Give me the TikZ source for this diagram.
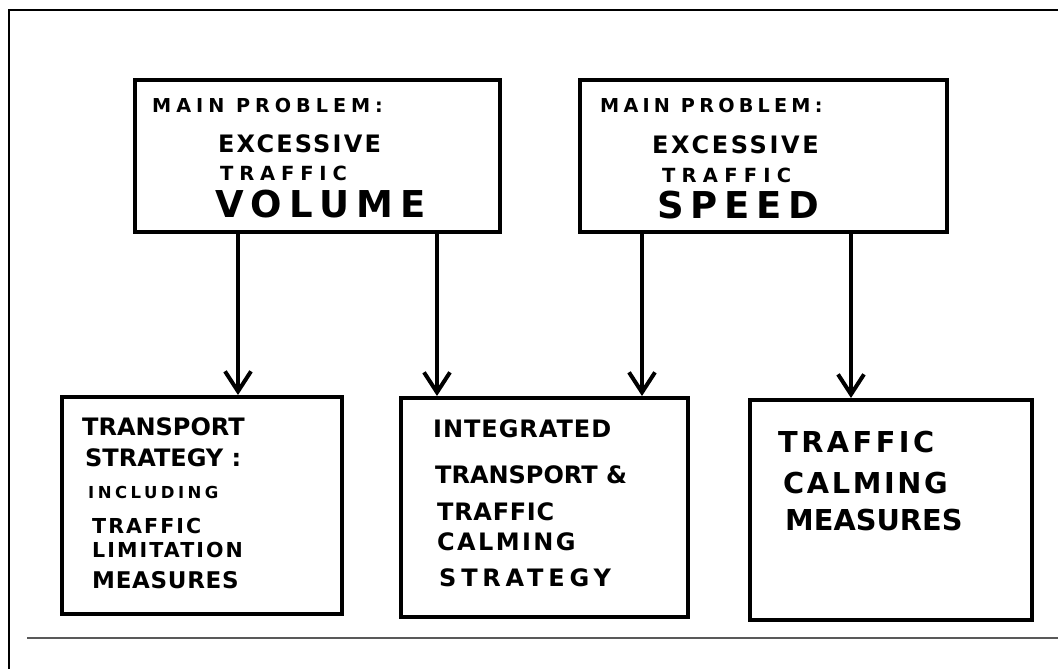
\documentclass[tikz,border=0pt]{standalone}
\usepackage{fontspec}
\usetikzlibrary{arrows.meta}

% lettering, spaced out like hand printing
\newfontfamily\hand{DejaVu Sans Bold}
% size and letter spacing in one go
\newcommand{\lett}[2]{\fontsize{#1}{#1}\selectfont\addfontfeatures{LetterSpace=#2}}

\tikzset{
  box/.style={draw, line width=4pt, inner sep=0pt},
  arr/.style={line width=3.5pt, -{Straight Barb[length=20pt,width=26pt,line width=4pt]}},
  txt/.style={anchor=base west, inner sep=0pt},
}

\begin{document}
\begin{tikzpicture}[x=1pt, y=-1pt]
                \useasboundingbox (0,0) rectangle (1058,669);
                \fill[white] (0,0) rectangle (1058,669);

                % frame
                \draw[line width=2.8pt] (9,669) -- (9,10) -- (1058,10);
                \draw[line width=1.3pt, gray!70!black] (27,638) -- (1058,638);

                % problem boxes
                \node[box, minimum width=365pt, minimum height=152pt] (vol) at (317.5,156) {};
                \node[box, minimum width=367pt, minimum height=152pt] (spd) at (763.5,156) {};

                % strategy boxes
                \node[box, minimum width=280pt, minimum height=217pt] (tsb) at (202,505.5) {};
                \node[box, minimum width=287pt, minimum height=219pt] (itg) at (544.5,507.5) {};
                \node[box, minimum width=282pt, minimum height=220pt] (tcm) at (891,510) {};

                % arrow positions
                \coordinate (a1) at (238,0);
                \coordinate (a2) at (437,0);
                \coordinate (a3) at (642,0);
                \coordinate (a4) at (851,0);

                \draw[arr] (vol.south -| a1) -- (tsb.north -| a1);
                \draw[arr] (vol.south -| a2) -- (itg.north -| a2);
                \draw[arr] (spd.south -| a3) -- (itg.north -| a3);
                \draw[arr] (spd.south -| a4) -- (tcm.north -| a4);

                % text: volume
                \node[txt, font=\hand\lett{19.2}{26}] (vmain) at (152,112) {MAIN PROBLEM:};
                \node[txt, font=\hand\lett{24}{9}] (vexc) at (218,152) {EXCESSIVE};
                \node[txt, font=\hand\lett{19.5}{30}] (vtra) at (220,180) {TRAFFIC};
                \node[txt, font=\hand\lett{37}{20}] (vvol) at (215,217) {VOLUME};

                % text: speed
                \node[txt, font=\hand\lett{19.2}{22}] (smain) at (600,112) {MAIN PROBLEM:};
                \node[txt, font=\hand\lett{24}{11}] (sexc) at (652,153) {EXCESSIVE};
                \node[txt, font=\hand\lett{19.5}{32}] (stra) at (662,182) {TRAFFIC};
                \node[txt, font=\hand\lett{37}{18}] (sspd) at (657,218) {SPEED};

                % text: transport strategy
                \node[txt, font=\hand\lett{24}{0}] (t1) at (82,435) {TRANSPORT};
                \node[txt, font=\hand\lett{24}{0}] (t2) at (85,466) {STRATEGY :};
                \node[txt, font=\hand\lett{16.5}{21}] (t3) at (88,498) {INCLUDING};
                \node[txt, font=\hand\lett{20.6}{10}] (t4) at (92,533) {TRAFFIC};
                \node[txt, font=\hand\lett{20.6}{10}] (t5) at (92,557) {LIMITATION};
                \node[txt, font=\hand\lett{23}{3}] (t6) at (92,588) {MEASURES};

                % text: integrated strategy
                \node[txt, font=\hand\lett{24}{4}] (i1) at (433,437) {INTEGRATED};
                \node[txt, font=\hand\lett{24}{0}] (i2) at (435,483) {TRANSPORT \&};
                \node[txt, font=\hand\lett{24}{3}] (i3) at (437,520) {TRAFFIC};
                \node[txt, font=\hand\lett{24}{10}] (i4) at (437,550) {CALMING};
                \node[txt, font=\hand\lett{24}{20}] (i5) at (439,586) {STRATEGY};

                % text: calming measures
                \node[txt, font=\hand\lett{28.8}{12}] (c1) at (778,452) {TRAFFIC};
                \node[txt, font=\hand\lett{28.8}{9}] (c2) at (783,493) {CALMING};
                \node[txt, font=\hand\lett{28.8}{0}] (c3) at (785,530) {MEASURES};
\end{tikzpicture}
\end{document}
